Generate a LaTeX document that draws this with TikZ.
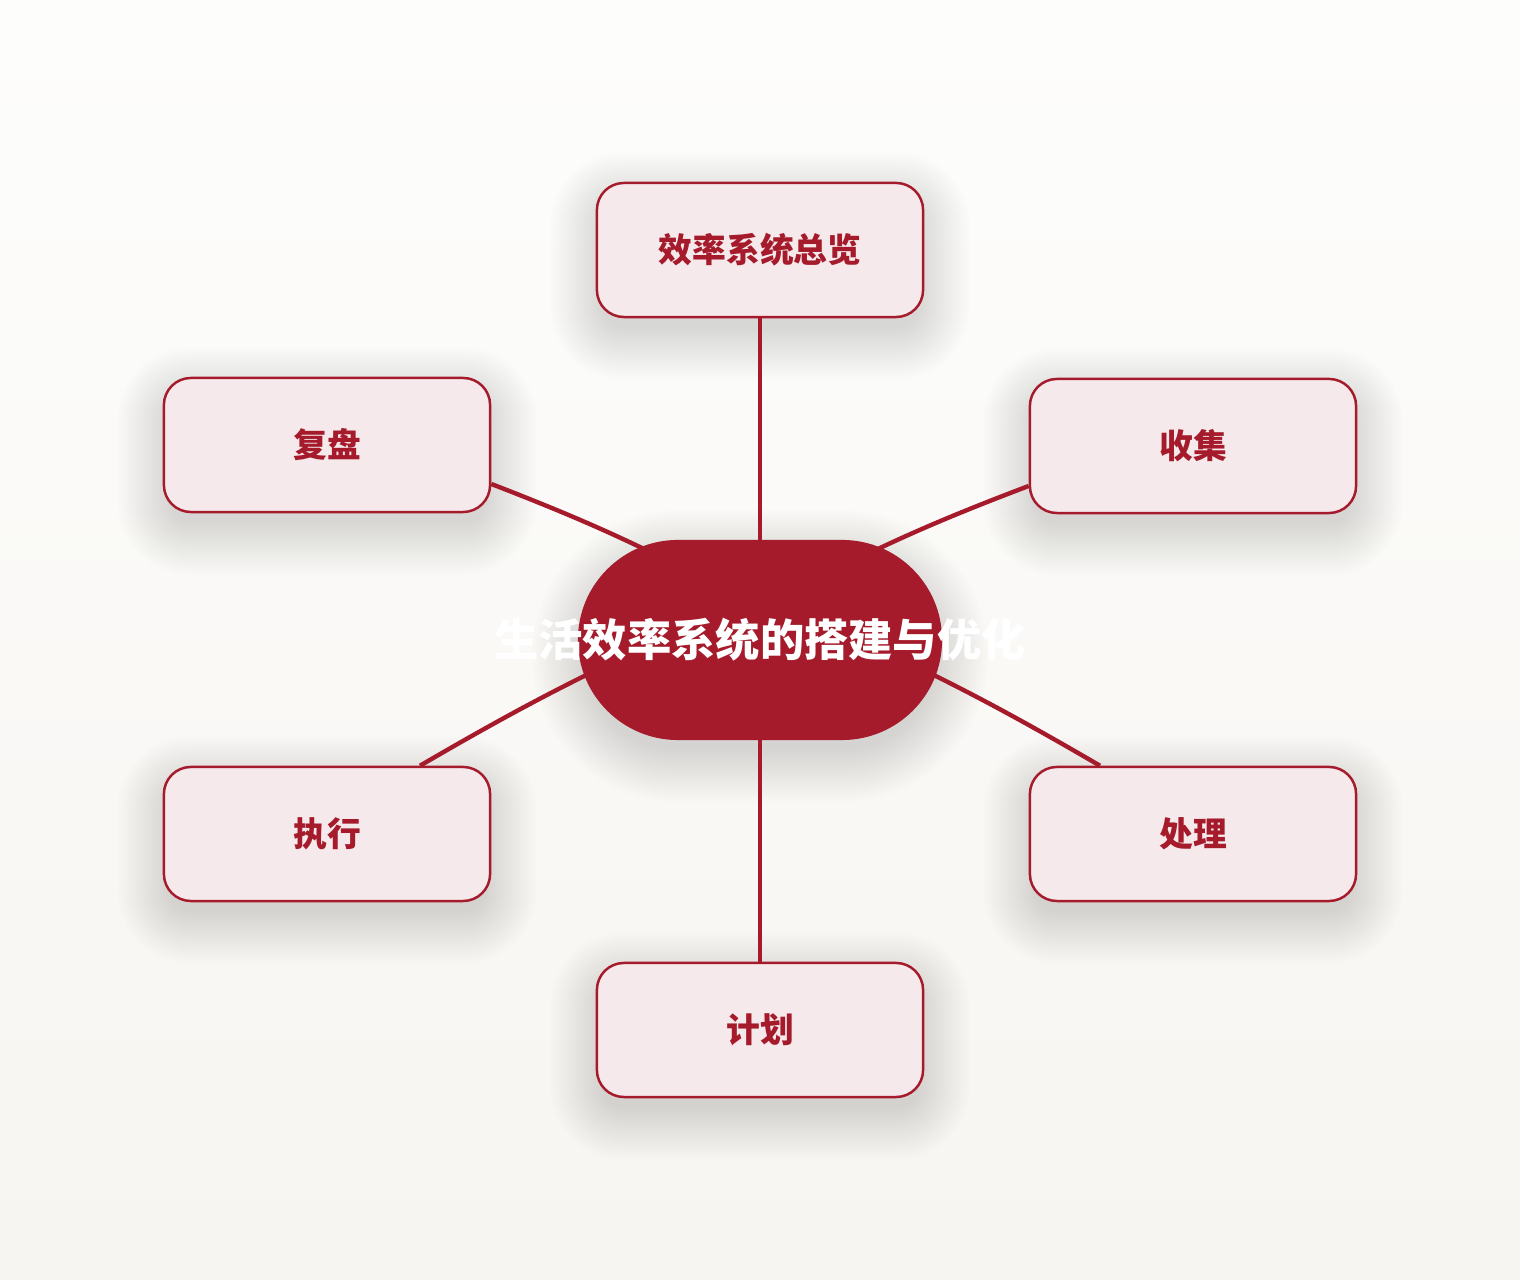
\documentclass[tikz,border=0pt]{standalone}
\usepackage{fontspec}
\setmainfont{Noto Sans CJK SC}
\usetikzlibrary{positioning, calc}
\definecolor{deepred}{HTML}{A51B2B}
\definecolor{palepink}{HTML}{F5E9EB}
\definecolor{bgtop}{HTML}{FDFDFC}
\definecolor{bgbottom}{HTML}{F7F5F1}
\pgfdeclarelayer{bg}
\pgfdeclarelayer{shade}
\pgfdeclarelayer{edges}
\pgfsetlayers{bg,shade,edges,main}

% soft shadow under a node: #1 node name, #2 corner radius in px
\newcommand{\dropshadow}[2]{%
  \begin{pgfonlayer}{shade}
    \foreach \r in {-6,-3,...,45} {
      \pgfmathsetmacro\rc{max(#2+\r,1)*0.01}
      \fill[black, opacity=0.009, rounded corners=\rc cm]
        ($(#1.south west)+(-\r,\r+16)$) rectangle ($(#1.north east)+(\r,-\r+16)$);
    }
  \end{pgfonlayer}}

\begin{document}
\begin{tikzpicture}[x=0.01cm, y=-0.01cm,
  topic/.style={rectangle, draw=deepred, line width=0.7pt, fill=palepink, rounded corners=0.27cm, minimum width=3.26cm, minimum height=1.34cm, align=center, text=deepred, font=\fontsize{9.6}{11}\selectfont\bfseries},
  root/.style={rectangle, fill=deepred, rounded corners=1cm, minimum width=3.64cm, minimum height=2cm, inner sep=0pt, text=white, font=\fontsize{12.6}{14}\selectfont\bfseries},
  link/.style={draw=deepred, line width=1.25pt}
]
  \begin{pgfonlayer}{bg}
    \fill[top color=bgtop, bottom color=bgbottom] (0,0) rectangle (1520,1280);
  \end{pgfonlayer}

  % centre and branches
  \node[root] (life) at (760,640) {\makebox[0pt]{生活效率系统的搭建与优化}};
  \node[topic] (overview) at (760,250) {效率系统总览};
  \node[topic] (collect) at (1193,446) {收集};
  \node[topic] (process) at (1193,834) {处理};
  \node[topic] (plan) at (760,1030) {计划};
  \node[topic] (execute) at (327,834) {执行};
  \node[topic] (review) at (327,445) {复盘};

  \dropshadow{life}{100}
  \foreach \n in {overview, collect, process, plan, execute, review}
    \dropshadow{\n}{27};

  \begin{pgfonlayer}{edges}
    \draw[link] (overview.south) -- (life.center);
    \draw[link] ($(collect.west)+(0,40)$) to[bend right=4] ($(life.center)+(0,-30)$);
    \draw[link] ($(process.north)+(-93,0)$) to[bend right=4] ($(life.center)+(0,-42)$);
    \draw[link] (plan.north) -- (life.center);
    \draw[link] ($(execute.north)+(93,0)$) to[bend left=4] ($(life.center)+(0,-42)$);
    \draw[link] ($(review.east)+(0,39)$) to[bend left=4] ($(life.center)+(0,-30)$);
  \end{pgfonlayer}
\end{tikzpicture}
\end{document}
